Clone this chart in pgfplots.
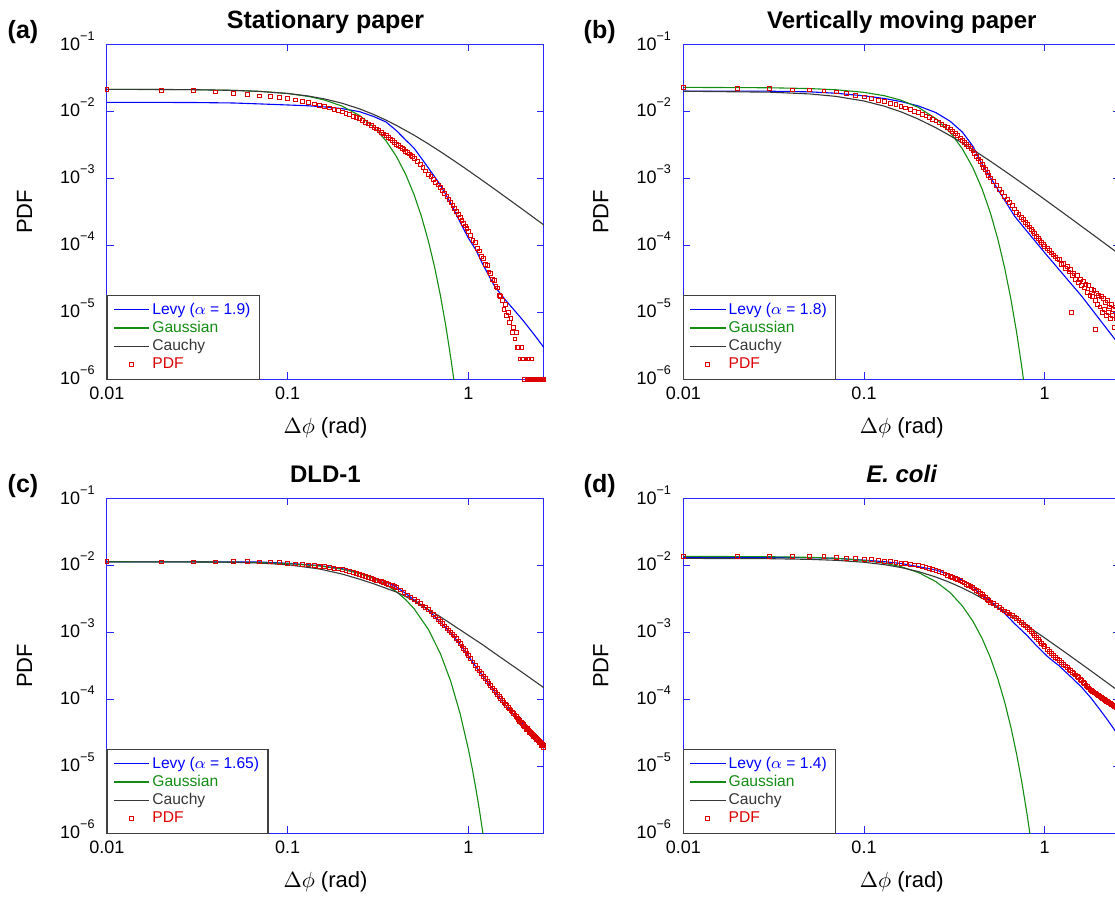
\documentclass[border=0pt]{standalone}
\usepackage{fontspec}
\setmainfont{Liberation Sans}
\usepackage{pgfplots}
\pgfplotsset{compat=1.18}
\definecolor{levy}{RGB}{0,0,255}
\definecolor{gauss}{RGB}{20,140,20}
\definecolor{cauchy}{RGB}{55,55,55}
\definecolor{pdfred}{RGB}{220,0,0}
\definecolor{axblue}{RGB}{40,40,255}
\newcommand{\tp}[1]{10\raisebox{5pt}{\fontsize{6.3}{7}\selectfont −#1}}
\pgfplotsset{
  scale only axis, width=218.5pt, height=167.4pt,
  xmin=0.01, xmax=2.62, ymin=1e-6, ymax=1e-1,
  xtick={0.01,0.1,1}, xticklabels={0.01,0.1,1},
  ytick={1e-6,1e-5,1e-4,1e-3,1e-2,1e-1},
  yticklabels={{\tp{6}},{\tp{5}},{\tp{4}},{\tp{3}},{\tp{2}},{\tp{1}}},
  minor xtick={}, minor ytick={}, minor tick length=0pt,
  minor tick style={draw=none},
  tick align=inside, major tick length=3.5pt,
  axis line style={draw=axblue, line width=0.5pt},
  tick style={draw=axblue, line width=0.5pt},
  tick label style={font=\fontsize{9}{10}\selectfont, text=black},
  xticklabel style={anchor=base, inner sep=0pt, yshift=-10.2pt},
  yticklabel style={anchor=base east, inner sep=0pt, xshift=-6pt, yshift=-2.85pt},
  xlabel={$\Delta\phi$ (rad)}, ylabel={PDF},
  x label style={at={(axis description cs:0.5,0)}, anchor=base, yshift=-27pt, font=\fontsize{11}{12}\selectfont},
  y label style={at={(axis description cs:-0.1716,0.5)}, anchor=base, font=\fontsize{11}{12}\selectfont},
  every axis title/.style={at={(axis description cs:0.5,1)}, anchor=base, yshift=8pt, font=\bfseries\fontsize{12}{14}\selectfont},
  legend cell align=left,
  legend style={at={(axis description cs:0,0)}, anchor=south west, draw=none, fill=white,
    font=\fontsize{7.8}{9}\selectfont, inner xsep=3pt, inner ysep=2.6pt, row sep=0pt,
    nodes={inner ysep=0.5pt, inner xsep=1.2pt, text height=6.2pt, text depth=1.9pt}},
  lev/.style={color=levy, draw=levy, line width=0.55pt, no marks,
    legend image code/.code={\draw[draw=levy, line width=0.65pt] (0cm,0cm) -- (0.62cm,0cm);}},
  gau/.style={color=gauss, draw=gauss, line width=0.55pt, no marks,
    legend image code/.code={\draw[draw=gauss, line width=0.65pt] (0cm,0cm) -- (0.62cm,0cm);}},
  cau/.style={color=cauchy, draw=cauchy, line width=0.55pt, no marks,
    legend image code/.code={\draw[draw=cauchy, line width=0.65pt] (0cm,0cm) -- (0.62cm,0cm);}},
  pd/.style={only marks, color=pdfred, mark=square, mark size=0.95pt, mark options={draw=pdfred, line width=0.4pt, fill=none}},
}
\tikzset{lframe/.style={draw=black!75, line width=0.6pt}}
\begin{document}
\begin{tikzpicture}
\useasboundingbox (0,0) rectangle (557.5pt,-448pt);
\clip (0,0) rectangle (557.5pt,-448pt);

% ---------------- (a) ----------------
\begin{loglogaxis}[at={(53.5pt,-22.15pt)}, anchor=north west, title={Stationary paper}, title style={font=\bfseries\fontsize{12.5}{14}\selectfont}, legend style={name=legA}]
\addplot[lev] table {
0.01 0.01358
0.02 0.01356
0.03 0.01352
0.05 0.0133
0.07 0.01288
0.1 0.01242
0.13 0.01208
0.16 0.01161
0.2 0.01096
0.25 0.00986
0.3 0.00832
0.35 0.00692
0.4 0.00513
0.45 0.00372
0.5 0.00282
0.6 0.00143
0.7 0.000794
0.8 0.000417
0.9 0.00022
1.0 0.0001276
1.1 0.000085
1.2 0.0000519
1.4 0.000024
1.6 0.0000153
1.8 0.0000106
2.0 0.0000076
2.3 0.0000047
2.62 0.00000295
};
\addlegendentry[text=levy]{Levy (\(\alpha\) = 1.9)}
\addplot[gau] table {
0.01 0.02127
0.03 0.02102
0.05 0.02054
0.07 0.01984
0.1 0.01843
0.13 0.01668
0.16 0.01471
0.2 0.01194
0.25 0.00862
0.3 0.00579
0.35 0.00362
0.4 0.002103
0.45 0.001137
0.5 0.000572
0.55 0.0002673
0.6 0.0001163
0.65 0.0000471
0.7 0.00001773
0.75 0.00000621
0.8 0.00000202
0.83 0.000000997
0.85 0.00000061
};
\addlegendentry[text=gauss]{Gaussian}
\addplot[cau] table {
0.01 0.02127
0.02 0.02117
0.03 0.02101
0.05 0.02051
0.07 0.01981
0.1 0.01846
0.13 0.01690
0.16 0.01528
0.2 0.01319
0.25 0.01086
0.3 0.00893
0.35 0.00738
0.4 0.00615
0.5 0.00440
0.6 0.00326
0.7 0.002495
0.8 0.001964
0.9 0.001582
1.0 0.001300
1.2 0.000920
1.4 0.000684
1.6 0.000527
1.8 0.000419
2.0 0.000341
2.3 0.0002585
2.62 0.0001998
};
\addlegendentry[text=cauchy]{Cauchy}
\addplot[pd] table {
0.01 0.0213
0.02 0.0203
0.03 0.0205
0.04 0.0195
0.05 0.0184
0.06 0.0178
0.07 0.0170
0.08 0.0166
0.09 0.0160
0.10 0.0155
0.11 0.0148
0.12 0.01414
0.13 0.0135
0.14 0.0129
0.15 0.01233
0.16 0.01178
0.17 0.01125
0.18 0.01074
0.19 0.01026
0.20 0.0098
0.21 0.0094
0.22 0.0090
0.23 0.0085
0.24 0.0081
0.25 0.0078
0.26 0.0073
0.27 0.0069
0.28 0.0065
0.29 0.0062
0.30 0.0058
0.31 0.00547
0.32 0.00516
0.33 0.00487
0.34 0.00459
0.35 0.00433
0.36 0.00409
0.37 0.00386
0.38 0.00364
0.39 0.00343
0.40 0.00324
0.41 0.00309
0.42 0.00294
0.43 0.0028
0.44 0.00267
0.45 0.00254
0.46 0.00242
0.47 0.00231
0.48 0.0022
0.49 0.0021
0.50 0.0020
0.52 0.00179
0.54 0.0016
0.56 0.00144
0.58 0.00129
0.60 0.001156
0.62 0.001053
0.64 0.000959
0.66 0.000873
0.68 0.000795
0.70 0.000724
0.72 0.000655
0.74 0.000593
0.76 0.000537
0.78 0.000486
0.80 0.00044
0.82 0.000396
0.84 0.000356
0.86 0.00032
0.88 0.000288
0.90 0.000259
0.92 0.000235
0.94 0.000214
0.96 0.000194
0.98 0.000176
1.00 0.00016
1.03 0.000142
1.06 0.000119
1.09 0.000110
1.12 0.0000905
1.15 0.0000820
1.18 0.0000680
1.21 0.0000640
1.24 0.0000520
1.27 0.0000500
1.30 0.0000400
1.33 0.0000380
1.36 0.0000310
1.39 0.0000300
1.42 0.0000240
1.45 0.0000230
1.48 0.0000180
1.51 0.0000170
1.54 0.0000150
1.57 0.0000110
1.60 0.0000130
1.63 0.0000090
1.66 0.0000100
1.69 0.0000070
1.72 0.0000080
1.75 0.0000050
1.78 0.0000060
1.81 0.0000040
1.84 0.0000050
1.87 0.0000030
1.90 0.0000030
1.93 0.0000020
1.96 0.0000030
1.99 0.0000020
2.02 0.0000020
2.05 0.0000010
2.08 0.0000020
2.11 0.0000010
2.14 0.0000020
2.17 0.0000010
2.20 0.0000010
2.23 0.0000020
2.26 0.0000010
2.29 0.0000010
2.32 0.0000010
2.35 0.0000010
2.38 0.0000010
2.41 0.0000010
2.44 0.0000010
2.47 0.0000010
2.50 0.0000010
2.53 0.0000010
2.56 0.0000010
2.59 0.0000010
2.62 0.0000010
};
\addlegendentry[text=pdfred]{PDF}
\end{loglogaxis}
\draw[lframe] (legA.south west) rectangle (legA.north east);

% ---------------- (b) ----------------
\begin{loglogaxis}[at={(341.65pt,-22.15pt)}, anchor=north west, title={Vertically moving paper}, legend style={name=legB}]
\addplot[lev] table {
0.01 0.0200
0.03 0.01995
0.05 0.0195
0.07 0.0186
0.1 0.0170
0.13 0.0155
0.16 0.01396
0.2 0.0120
0.25 0.00955
0.3 0.00708
0.35 0.0049
0.4 0.00302
0.445 0.00171
0.5 0.00103
0.6 0.00047
0.681 0.000272
0.8 0.00016
0.9 0.000109
1.0 0.0000773
1.2 0.0000433
1.4 0.0000265
1.6 0.0000174
2.0 0.00000796
2.45 0.00000392
2.62 0.00000309
};
\addlegendentry[text=levy]{Levy (\(\alpha\) = 1.8)}
\addplot[gau] table {
0.01 0.02276
0.03 0.02245
0.05 0.02184
0.07 0.02095
0.1 0.01919
0.13 0.01704
0.16 0.01466
0.2 0.01144
0.25 0.00776
0.3 0.00483
0.35 0.002758
0.4 0.001445
0.45 0.000694
0.5 0.000306
0.55 0.0001239
0.6 0.000046
0.65 0.00001565
0.7 0.00000489
0.75 0.0000014
0.78 0.00000063
};
\addlegendentry[text=gauss]{Gaussian}
\addplot[cau] table {
0.01 0.01992
0.03 0.0193
0.05 0.01816
0.07 0.01669
0.1 0.01424
0.13 0.01188
0.16 0.00982
0.2 0.00764
0.25 0.00567
0.3 0.00431
0.35 0.003356
0.4 0.002675
0.5 0.001798
0.6 0.001284
0.7 0.00096
0.8 0.000743
0.9 0.000592
1.0 0.000482
1.2 0.000337
1.4 0.000249
1.6 0.000191
1.8 0.0001513
2.0 0.0001227
2.3 0.0000929
2.62 0.0000717
};
\addlegendentry[text=cauchy]{Cauchy}
\addplot[pd] table {
0.01 0.0228
0.02 0.0218
0.03 0.0218
0.04 0.0208
0.05 0.0208
0.06 0.0201
0.07 0.0195
0.08 0.0184
0.09 0.0173
0.10 0.0164
0.11 0.01554
0.12 0.01472
0.13 0.01395
0.14 0.01321
0.15 0.01252
0.16 0.01186
0.17 0.01124
0.18 0.01065
0.19 0.01008
0.20 0.00955
0.21 0.00902
0.22 0.00851
0.23 0.00804
0.24 0.00759
0.25 0.00717
0.26 0.00677
0.27 0.00639
0.28 0.00603
0.29 0.0057
0.30 0.00538
0.31 0.005
0.32 0.00464
0.33 0.00431
0.34 0.004
0.35 0.00371
0.36 0.00345
0.37 0.0032
0.38 0.00297
0.39 0.00276
0.40 0.00256
0.41 0.00233
0.42 0.00213
0.43 0.00194
0.44 0.00177
0.45 0.00161
0.46 0.00147
0.47 0.00134
0.48 0.00122
0.49 0.00111
0.50 0.00101
0.52 0.00089
0.54 0.000784
0.56 0.00069
0.58 0.000608
0.60 0.000535
0.62 0.000481
0.64 0.000432
0.66 0.000388
0.68 0.000349
0.70 0.000313
0.72 0.000287
0.74 0.000263
0.76 0.000241
0.78 0.000220
0.80 0.000202
0.82 0.000187
0.84 0.000173
0.86 0.00016
0.88 0.000148
0.90 0.000137
0.92 0.000128
0.94 0.000119
0.96 0.000111
0.98 0.000104
1.00 0.000097
1.03 0.0000896
1.06 0.0000830
1.09 0.0000770
1.12 0.0000716
1.15 0.0000667
1.18 0.0000623
1.21 0.0000610
1.24 0.0000520
1.27 0.0000540
1.30 0.0000450
1.33 0.0000480
1.36 0.0000400
1.39 0.0000430
1.405 0.0000100
1.42 0.0000350
1.45 0.0000380
1.48 0.0000310
1.51 0.0000350
1.54 0.0000280
1.57 0.0000310
1.60 0.0000250
1.63 0.0000290
1.66 0.0000230
1.69 0.0000260
1.72 0.0000200
1.75 0.0000250
1.78 0.0000180
1.81 0.0000220
1.84 0.0000170
1.87 0.0000210
1.90 0.0000150
1.905 0.0000056
1.93 0.0000190
1.96 0.0000130
1.99 0.0000180
2.02 0.0000120
2.05 0.0000170
2.08 0.0000100
2.11 0.0000160
2.14 0.0000110
2.17 0.0000140
2.20 0.0000090
2.23 0.0000150
2.26 0.0000100
2.29 0.0000120
2.32 0.0000080
2.35 0.0000130
2.38 0.0000090
2.41 0.0000110
2.44 0.0000060
2.47 0.0000120
2.50 0.0000080
2.53 0.0000100
2.56 0.0000070
2.59 0.0000090
2.62 0.0000080
};
\addlegendentry[text=pdfred]{PDF}
\end{loglogaxis}
\draw[lframe] (legB.south west) rectangle (legB.north east);

% ---------------- (c) ----------------
\begin{loglogaxis}[at={(53.5pt,-249.15pt)}, anchor=north west, title={DLD-1}, legend style={name=legC}]
\addplot[lev] table {
0.01 0.01127
0.03 0.01127
0.05 0.01125
0.07 0.0112
0.1 0.01072
0.15 0.0099
0.2 0.0089
0.25 0.0076
0.3 0.00655
0.35 0.0056
0.4 0.0047
0.45 0.0038
0.5 0.00305
0.6 0.00215
0.7 0.00141
0.8 0.00097
0.9 0.00066
1.0 0.000435
1.2 0.000222
1.5 0.000101
1.8 0.000056
2.0 0.0000425
2.3 0.0000285
2.62 0.0000205
};
\addlegendentry[text=levy]{Levy (\(\alpha\) = 1.65)}
\addplot[gau] table {
0.01 0.01129
0.03 0.01123
0.05 0.01112
0.07 0.01095
0.1 0.01059
0.15 0.00977
0.2 0.00873
0.25 0.00755
0.3 0.00632
0.35 0.005127
0.4 0.004025
0.45 0.00306
0.5 0.002252
0.6 0.001108
0.7 0.000479
0.8 0.0001818
0.9 0.0000607
1.0 0.00001783
1.05 0.0000092
1.1 0.0000046
1.15 0.00000223
1.2 0.00000104
1.25 0.00000047
};
\addlegendentry[text=gauss]{Gaussian}
\addplot[cau] table {
0.01 0.01127
0.03 0.01122
0.05 0.0111
0.07 0.0108
0.1 0.0102
0.15 0.0088
0.2 0.0074
0.25 0.0062
0.3 0.00528
0.4 0.00398
0.5 0.00297
0.6 0.00218
0.7 0.00170
0.8 0.00134
1.0 0.00090
1.2 0.00065
1.5 0.000425
2.0 0.000248
2.62 0.000148
};
\addlegendentry[text=cauchy]{Cauchy}
\addplot[pd] table {
0.01 0.01153
0.02 0.01127
0.03 0.01127
0.04 0.01127
0.05 0.0115
0.06 0.0115
0.07 0.01127
0.08 0.01127
0.09 0.011
0.10 0.01064
0.11 0.01047
0.12 0.0103
0.13 0.01013
0.14 0.00995
0.15 0.0097
0.16 0.00953
0.17 0.00932
0.18 0.00908
0.19 0.00885
0.20 0.0086
0.21 0.00832
0.22 0.00805
0.23 0.00778
0.24 0.00753
0.25 0.00728
0.26 0.00704
0.27 0.00681
0.28 0.00659
0.29 0.00637
0.30 0.00617
0.31 0.006
0.32 0.00584
0.33 0.00568
0.34 0.00552
0.35 0.00537
0.36 0.00523
0.37 0.00508
0.38 0.00494
0.39 0.00481
0.40 0.00469
0.42 0.00428
0.44 0.00392
0.46 0.0036
0.48 0.00332
0.50 0.003076
0.52 0.00285
0.54 0.00266
0.56 0.00248
0.58 0.00232
0.60 0.00218
0.62 0.00201
0.64 0.00184
0.66 0.00169
0.68 0.00156
0.70 0.001445
0.72 0.001337
0.74 0.00124
0.76 0.001155
0.78 0.001076
0.80 0.001005
0.82 0.00094
0.84 0.00088
0.86 0.000813
0.88 0.000743
0.90 0.000681
0.92 0.000625
0.94 0.000575
0.96 0.00053
0.98 0.000489
1.00 0.000452
1.03 0.000403
1.06 0.00036
1.09 0.000323
1.12 0.00029
1.15 0.000264
1.18 0.000242
1.21 0.000221
1.24 0.000203
1.27 0.000187
1.30 0.000172
1.33 0.000159
1.36 0.000147
1.39 0.000136
1.42 0.000126
1.45 0.0001175
1.48 0.0001094
1.51 0.000102
1.54 0.0000955
1.57 0.000090
1.60 0.0000849
1.63 0.0000802
1.66 0.0000759
1.69 0.0000718
1.72 0.0000681
1.75 0.0000646
1.78 0.0000613
1.81 0.0000582
1.84 0.0000554
1.87 0.0000527
1.90 0.0000502
1.93 0.0000479
1.96 0.0000456
1.99 0.0000435
2.02 0.0000416
2.05 0.0000398
2.08 0.000038
2.11 0.0000364
2.14 0.0000349
2.17 0.0000335
2.20 0.0000323
2.23 0.0000311
2.26 0.00003
2.29 0.000029
2.32 0.0000279
2.35 0.000027
2.38 0.0000261
2.41 0.0000252
2.44 0.0000244
2.47 0.0000236
2.50 0.0000229
2.53 0.0000221
2.56 0.0000214
2.59 0.0000207
2.62 0.0000201
1.915 0.0000470
2.005 0.0000400
2.095 0.0000350
2.185 0.0000315
2.275 0.0000275
2.365 0.0000250
2.455 0.0000228
2.545 0.0000205
2.605 0.0000190
};
\addlegendentry[text=pdfred]{PDF}
\end{loglogaxis}
\draw[lframe] (legC.south west) rectangle (legC.north east);

% ---------------- (d) ----------------
\begin{loglogaxis}[at={(341.65pt,-249.15pt)}, anchor=north west, title={\textit{E. coli}}, legend style={name=legD}]
\addplot[lev] table {
0.01 0.0131
0.03 0.0131
0.05 0.0130
0.07 0.0127
0.1 0.01194
0.13 0.0113
0.16 0.01065
0.2 0.00955
0.25 0.0085
0.3 0.0072
0.35 0.0060
0.4 0.0048
0.445 0.00356
0.5 0.00295
0.6 0.00191
0.681 0.001346
0.8 0.000891
0.9 0.000631
1.045 0.000425
1.2 0.000316
1.4 0.000214
1.6 0.000151
1.8 0.000105
2.0 0.0000724
2.2 0.0000513
2.45 0.000034
2.62 0.0000269
};
\addlegendentry[text=levy]{Levy (\(\alpha\) = 1.4)}
\addplot[gau] table {
0.01 0.01358
0.03 0.01343
0.05 0.01313
0.07 0.0127
0.1 0.01183
0.13 0.01075
0.16 0.00953
0.2 0.0078
0.25 0.0057
0.3 0.00389
0.35 0.002475
0.4 0.001469
0.45 0.000813
0.5 0.00042
0.55 0.0002025
0.6 0.000091
0.65 0.0000382
0.7 0.0000149
0.75 0.00000544
0.8 0.00000185
0.83 0.00000094
};
\addlegendentry[text=gauss]{Gaussian}
\addplot[cau] table {
0.01 0.01268
0.03 0.01254
0.05 0.01226
0.07 0.01186
0.1 0.0111
0.13 0.01021
0.16 0.00927
0.2 0.00805
0.25 0.00667
0.3 0.00552
0.35 0.004585
0.4 0.003835
0.5 0.002754
0.6 0.002048
0.7 0.001572
0.8 0.001239
0.9 0.001
1.0 0.000822
1.2 0.000582
1.4 0.000433
1.6 0.000334
1.8 0.0002656
2.0 0.000216
2.3 0.000164
2.62 0.0001268
};
\addlegendentry[text=cauchy]{Cauchy}
\addplot[pd] table {
0.01 0.0137
0.02 0.0137
0.03 0.0137
0.04 0.0134
0.05 0.0137
0.06 0.0134
0.07 0.0131
0.08 0.01265
0.09 0.01265
0.10 0.01236
0.11 0.01209
0.12 0.01182
0.13 0.01156
0.14 0.0113
0.15 0.01106
0.16 0.01081
0.17 0.01058
0.18 0.01034
0.19 0.01012
0.20 0.0099
0.21 0.0096
0.22 0.0093
0.23 0.0090
0.24 0.0087
0.25 0.0084
0.26 0.0081
0.27 0.00775
0.28 0.00745
0.29 0.00715
0.30 0.00685
0.31 0.00659
0.32 0.00635
0.33 0.00611
0.34 0.00588
0.35 0.00566
0.36 0.00545
0.37 0.00525
0.38 0.00505
0.39 0.00486
0.40 0.00468
0.41 0.00445
0.42 0.00423
0.43 0.00402
0.44 0.00382
0.45 0.00363
0.46 0.00345
0.47 0.00328
0.48 0.00312
0.49 0.00297
0.50 0.00282
0.52 0.00266
0.54 0.0025
0.56 0.00236
0.58 0.00222
0.60 0.00209
0.62 0.00198
0.64 0.00188
0.66 0.00179
0.68 0.0017
0.70 0.00159
0.72 0.00149
0.74 0.0014
0.76 0.00132
0.78 0.00124
0.80 0.001175
0.82 0.001093
0.84 0.001018
0.86 0.00095
0.88 0.000887
0.90 0.000831
0.92 0.000779
0.94 0.000731
0.96 0.000688
0.98 0.000647
1.00 0.00061
1.03 0.000555
1.06 0.000518
1.09 0.000484
1.12 0.000453
1.15 0.000425
1.18 0.000399
1.21 0.000375
1.24 0.000354
1.27 0.000334
1.30 0.000315
1.33 0.000298
1.36 0.000282
1.39 0.000268
1.42 0.000254
1.45 0.000241
1.48 0.00023
1.51 0.000219
1.54 0.000209
1.57 0.000199
1.60 0.00019
1.63 0.00018
1.66 0.000171
1.69 0.000162
1.72 0.000154
1.75 0.000148
1.78 0.000142
1.81 0.000137
1.84 0.000132
1.87 0.000128
1.90 0.000124
1.93 0.00012
1.96 0.000116
1.99 0.000113
2.02 0.00011
2.05 0.000107
2.08 0.000104
2.11 0.000101
2.14 0.000099
2.17 0.000096
2.20 0.000094
2.23 0.000092
2.26 0.00009
2.29 0.000088
2.32 0.000086
2.35 0.000084
2.38 0.000082
2.41 0.00008
2.44 0.000078
2.47 0.000077
2.50 0.000075
2.53 0.000073
2.56 0.000071
2.59 0.00007
2.62 0.000068
};
\addlegendentry[text=pdfred]{PDF}
\end{loglogaxis}
\draw[lframe] (legD.south west) rectangle (legD.north east);

\node[anchor=base west, inner sep=0pt, font=\bfseries\fontsize{12.5}{14}\selectfont] at (3.65pt,-19pt) {(a)};
\node[anchor=base west, inner sep=0pt, font=\bfseries\fontsize{12.5}{14}\selectfont] at (291.65pt,-19pt) {(b)};
\node[anchor=base west, inner sep=0pt, font=\bfseries\fontsize{12.5}{14}\selectfont] at (3.65pt,-246pt) {(c)};
\node[anchor=base west, inner sep=0pt, font=\bfseries\fontsize{12.5}{14}\selectfont] at (291.65pt,-246pt) {(d)};
\end{tikzpicture}
\end{document}
